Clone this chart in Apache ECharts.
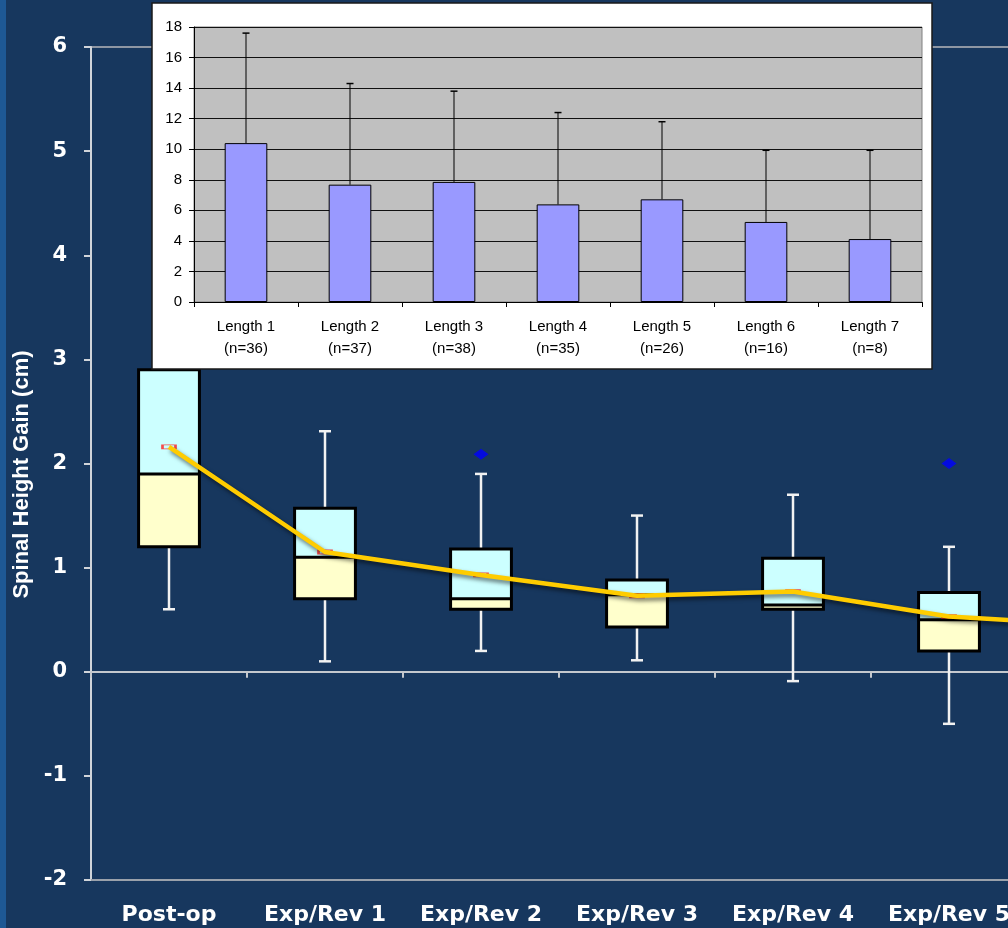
<!DOCTYPE html>
<html>
<head>
<meta charset="utf-8">
<title>Spinal Height Gain</title>
<script src="https://cdn.jsdelivr.net/npm/echarts@6/dist/echarts.min.js"></script>
<style>
  html, body { margin: 0; padding: 0; background: #17375E; }
  #chart { width: 1008px; height: 928px; }
</style>
</head>
<body>
<div id="chart"></div>
<script>
// ---- Main chart: spinal height gain per procedure (cm) ----
const categories = ['Post-op', 'Exp/Rev 1', 'Exp/Rev 2', 'Exp/Rev 3', 'Exp/Rev 4', 'Exp/Rev 5', 'Exp/Rev 6'];
const whiskerLow  = [0.60, 0.10, 0.20, 0.11, -0.09, -0.50];
const quartile1   = [1.20, 0.70, 0.60, 0.43, 0.60, 0.20];
const median      = [1.90, 1.10, 0.70, 0.74, 0.64, 0.50];
const quartile3   = [2.90, 1.57, 1.18, 0.88, 1.09, 0.76];
const whiskerHigh = [3.70, 2.31, 1.90, 1.50, 1.70, 1.20];
const meanGain    = [2.16, 1.15, 0.93, 0.73, 0.77, 0.53, 0.44];
const outlierCategory = [2, 5];
const outlierValue    = [2.09, 2.00];
const yTicks = { min: -2, max: 6, step: 1 };

// ---- Inset: gain by rod length ----
const lengthNames = ['Length 1', 'Length 2', 'Length 3', 'Length 4', 'Length 5', 'Length 6', 'Length 7'];
const lengthN     = [36, 37, 38, 35, 26, 16, 8];
const lengthMean  = [10.4, 7.68, 7.86, 6.39, 6.72, 5.24, 4.12];
const lengthUpper = [17.6, 14.3, 13.8, 12.4, 11.8, 9.93, 9.93];
const insetTicks  = { min: 0, max: 18, step: 2 };

const boxData = whiskerLow.map((lo, i) => [i, lo, quartile1[i], median[i], quartile3[i], whiskerHigh[i]]);
const outlierData = outlierCategory.map((c, i) => [c, outlierValue[i]]);
const errorData = lengthMean.map((m, i) => [i, m, lengthUpper[i]]);

const WHITE = '#FFFFFF';
const mainFont = 'DejaVu Sans';

// Two-tone box (lower quartile pale yellow, upper quartile pale cyan) with white whiskers
function renderBox(params, api) {
  const idx = api.value(0);
  const pLow = api.coord([idx, api.value(1)]);
  const pQ1 = api.coord([idx, api.value(2)]);
  const pMed = api.coord([idx, api.value(3)]);
  const pQ3 = api.coord([idx, api.value(4)]);
  const pHigh = api.coord([idx, api.value(5)]);
  const x = pMed[0];
  const hw = api.size([1, 0])[0] * 0.195;
  const cap = 6;
  const wStyle = { stroke: '#F2F2F2', lineWidth: 2.5 };
  return {
    type: 'group',
    children: [
      { type: 'line', shape: { x1: x, y1: pQ3[1], x2: x, y2: pHigh[1] }, style: wStyle },
      { type: 'line', shape: { x1: x - cap, y1: pHigh[1], x2: x + cap, y2: pHigh[1] }, style: wStyle },
      { type: 'line', shape: { x1: x, y1: pQ1[1], x2: x, y2: pLow[1] }, style: wStyle },
      { type: 'line', shape: { x1: x - cap, y1: pLow[1], x2: x + cap, y2: pLow[1] }, style: wStyle },
      { type: 'rect', shape: { x: x - hw, y: pMed[1], width: 2 * hw, height: pQ1[1] - pMed[1] },
        style: { fill: '#FFFFCC' } },
      { type: 'rect', shape: { x: x - hw, y: pQ3[1], width: 2 * hw, height: pMed[1] - pQ3[1] },
        style: { fill: '#CCFFFF' } },
      { type: 'line', shape: { x1: x - hw, y1: pMed[1], x2: x + hw, y2: pMed[1] },
        style: { stroke: '#000', lineWidth: 3 } },
      { type: 'rect', shape: { x: x - hw, y: pQ3[1], width: 2 * hw, height: pQ1[1] - pQ3[1] },
        style: { fill: null, stroke: '#000', lineWidth: 3 } }
    ]
  };
}

// Upper-only error bar above each inset column
function renderErrorBar(params, api) {
  const idx = api.value(0);
  const pMean = api.coord([idx, api.value(1)]);
  const pUp = api.coord([idx, api.value(2)]);
  const x = pMean[0];
  return {
    type: 'group',
    children: [
      { type: 'line', shape: { x1: x, y1: pMean[1], x2: x, y2: pUp[1] }, style: { stroke: '#000', lineWidth: 1 } },
      { type: 'line', shape: { x1: x - 3.5, y1: pUp[1], x2: x + 3.5, y2: pUp[1] }, style: { stroke: '#000', lineWidth: 1.5 } }
    ]
  };
}

const chart = echarts.init(document.getElementById('chart'), null, { renderer: 'canvas' });

chart.setOption({
  animation: false,
  backgroundColor: '#17375E',
  graphic: [
    { type: 'rect', zlevel: 0, z: -1, shape: { x: 0, y: 0, width: 6, height: 928 }, style: { fill: '#1E5894' } },
    { type: 'rect', zlevel: 1, z: 0, shape: { x: 152, y: 3, width: 780, height: 366 },
      style: { fill: '#FFFFFF', stroke: '#1A1A1A', lineWidth: 1.5 } }
  ],
  grid: [
    { left: 91, top: 47, width: 1092, height: 833, show: true, borderColor: '#8E96A3', borderWidth: 2,
      backgroundColor: 'transparent', outerBoundsMode: 'none', containLabel: false },
    { left: 194, top: 27, width: 728, height: 275, show: true, backgroundColor: '#C0C0C0',
      borderColor: '#808080', borderWidth: 1, zlevel: 1, z: 1, outerBoundsMode: 'none', containLabel: false }
  ],
  xAxis: [
    { type: 'category', gridIndex: 0, data: categories, position: 'bottom',
      axisLine: { show: true, onZero: false, lineStyle: { color: '#9AA1AB', width: 2 } },
      axisTick: { show: false },
      axisLabel: { interval: 0, margin: 24, color: WHITE, fontFamily: mainFont, fontWeight: 'bold', fontSize: 22 },
      splitLine: { show: false } },
    { type: 'category', gridIndex: 0, data: categories, position: 'top',
      axisLine: { show: true, onZero: true, onZeroAxisIndex: 0, lineStyle: { color: '#C4C8CE', width: 2 } },
      axisTick: { show: true, inside: true, length: 6, lineStyle: { color: '#C4C8CE', width: 2 } },
      axisLabel: { show: false },
      splitLine: { show: false } },
    { type: 'category', gridIndex: 1, data: lengthNames, position: 'bottom', zlevel: 1, z: 2,
      axisLine: { show: true, lineStyle: { color: '#000', width: 1 } },
      axisTick: { show: true, length: 5, lineStyle: { color: '#000' } },
      axisLabel: { interval: 0, margin: 14, color: '#000', fontFamily: 'Liberation Sans', fontSize: 15, lineHeight: 22,
        formatter: (v, i) => v + '\n(n=' + lengthN[i] + ')' },
      splitLine: { show: false } }
  ],
  yAxis: [
    { type: 'value', gridIndex: 0, min: yTicks.min, max: yTicks.max, interval: yTicks.step,
      name: 'Spinal Height Gain (cm)', nameLocation: 'middle', nameGap: 58,
      nameTextStyle: { color: WHITE, fontFamily: 'Liberation Sans', fontWeight: 'bold', fontSize: 22, padding: [0, 22, 0, 0] },
      axisLine: { show: true, lineStyle: { color: '#D0D4DA', width: 2 } },
      axisTick: { show: true, length: 7, lineStyle: { color: '#D0D4DA', width: 2 } },
      axisLabel: { margin: 24, color: WHITE, fontFamily: mainFont, fontWeight: 'bold', fontSize: 21 },
      splitLine: { show: false } },
    { type: 'value', gridIndex: 1, min: insetTicks.min, max: insetTicks.max, interval: insetTicks.step, zlevel: 1, z: 2,
      axisLine: { show: true, lineStyle: { color: '#000', width: 1 } },
      axisTick: { show: true, length: 5, lineStyle: { color: '#000' } },
      axisLabel: { margin: 12, color: '#000', fontFamily: 'Liberation Sans', fontSize: 15 },
      splitLine: { show: true, lineStyle: { color: '#111', width: 1 } } }
  ],
  series: [
    { type: 'custom', name: 'Spread', xAxisIndex: 0, yAxisIndex: 0, z: 2,
      renderItem: renderBox, data: boxData,
      encode: { x: 0, y: [1, 2, 3, 4, 5] } },
    { type: 'scatter', name: 'Outliers', xAxisIndex: 0, yAxisIndex: 0, z: 3,
      symbol: 'diamond', symbolSize: [15, 11], itemStyle: { color: '#0000FF' }, data: outlierData },
    { type: 'scatter', name: 'Mean marker', xAxisIndex: 0, yAxisIndex: 0, z: 3,
      symbol: 'rect', symbolSize: [13, 4],
      itemStyle: { color: 'rgba(0,0,0,0)', borderColor: '#FF2020', borderWidth: 1.5 },
      data: meanGain.map((v, i) => [i, v]) },
    { type: 'line', name: 'Mean', xAxisIndex: 0, yAxisIndex: 0, z: 4,
      data: meanGain, symbol: 'none', smooth: false,
      lineStyle: { color: '#FFCC00', width: 4.5, shadowColor: 'rgba(0,0,0,0.55)', shadowBlur: 4, shadowOffsetX: 2, shadowOffsetY: 3 } },
    { type: 'bar', name: 'Gain by length', xAxisIndex: 2, yAxisIndex: 1, zlevel: 1, z: 3,
      data: lengthMean, barWidth: '41%',
      itemStyle: { color: '#9999FF', borderColor: '#000', borderWidth: 1 } },
    { type: 'custom', name: 'SD', xAxisIndex: 2, yAxisIndex: 1, zlevel: 1, z: 4,
      renderItem: renderErrorBar, data: errorData,
      encode: { x: 0, y: [1, 2] } }
  ]
});
</script>
</body>
</html>
